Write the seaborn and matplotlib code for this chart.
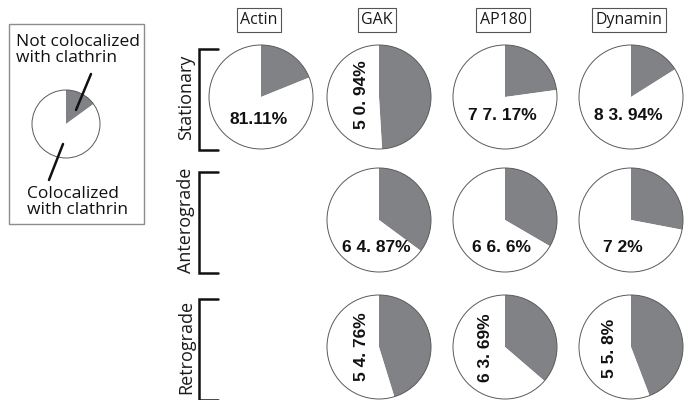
import numpy as np
import matplotlib
matplotlib.use("Agg")
import matplotlib.pyplot as plt
from matplotlib.patches import Circle, Rectangle
import seaborn as sns

# ---------------- data ----------------
proteins = ["Actin", "GAK", "AP180", "Dynamin"]
movements = ["Stationary", "Anterograde", "Retrograde"]
# percent colocalized with clathrin (white wedge); None = no pie
stationary = [81.11, 50.94, 77.17, 83.94]
anterograde = [None, 64.87, 66.6, 72.0]
retrograde = [None, 54.76, 63.69, 55.8]
# labels as printed in the figure
stationary_labels = ["81.11%", "5 0. 94%", "7 7. 17%", "8 3. 94%"]
anterograde_labels = [None, "6 4. 87%", "6 6. 6%", "7 2%"]
retrograde_labels = [None, "5 4. 76%", "6 3. 69%", "5 5. 8%"]
legend_colocalized = 85.0
legend_top = "Not colocalized\nwith clathrin"
legend_bottom = "Colocalized\nwith clathrin"

values = [stationary, anterograde, retrograde]
labels = [stationary_labels, anterograde_labels, retrograde_labels]

# ---------------- style / layout ----------------
sns.set_theme(style="white")
plt.rcParams['font.family'] = ['Open Sans', 'DejaVu Sans']

W, H = 686, 400
GRAY = "#808285"
EDGE = "#5a5a5a"

col_x = [261, 379, 505, 631]
row_y = [97, 220, 347]
R = 52
# label offsets (dx, dy in pixels, y downward) and rotation per cell
lab_off = [
    [(-2, 23, 0), (-17, -2, 90), (-3, 18, 0), (-3, 18, 0)],
    [None, (-3, 27, 0), (-3, 28, 0), (-8, 27, 0)],
    [None, (-17, 0, 90), (-19, 1, 90), (-21, 1, 90)],
]

fig = plt.figure(figsize=(W / 100, H / 100), dpi=100)
ax = fig.add_axes([0, 0, 1, 1])


def Y(y):
    return H - y


def draw_pie(cx, cy, r, coloc):
    ax.pie([100 - coloc, coloc], center=(cx, Y(cy)), radius=r,
           startangle=90, counterclock=False, colors=[GRAY, "white"],
           wedgeprops=dict(linewidth=0))
    ax.add_patch(Circle((cx, Y(cy)), r, fill=False, edgecolor=EDGE, lw=0.7, zorder=5))


for i, mv in enumerate(movements):
    for j, pr in enumerate(proteins):
        v = values[i][j]
        if v is None:
            continue
        cx, cy = col_x[j], row_y[i]
        draw_pie(cx, cy, R, v)
        dx, dy, rot = lab_off[i][j]
        ax.text(cx + dx, Y(cy + dy), labels[i][j], ha="center", va="center",
                rotation=rot, fontsize=12.5, fontweight="bold",
                family=["Liberation Sans", "DejaVu Sans"], color="#111111", zorder=6)

# column headers
for j, pr in enumerate(proteins):
    ax.text(col_x[j] - 2, Y(20), pr, ha="center", va="center", fontsize=11.5,
            color="#1a1a1a",
            bbox=dict(boxstyle="square,pad=0.22", fc="white", ec="#555555", lw=0.8))

# row labels and brackets
for i, mv in enumerate(movements):
    cy = row_y[i]
    ax.text(186, Y(cy), mv, ha="center", va="center", rotation=90,
            fontsize=13, color="#1a1a1a")
    top, bot = cy - 48, cy + 53
    ax.plot([218, 199, 199, 218], [Y(top), Y(top), Y(bot), Y(bot)],
            color="#111111", lw=1.8, solid_joinstyle="miter")

# legend box
ax.add_patch(Rectangle((9, Y(224)), 135, 200, fill=False, edgecolor="#8c8c8c", lw=1))
draw_pie(66, 124, 34, legend_colocalized)
ax.text(16, Y(50), legend_top, ha="left", va="center", fontsize=12.5,
        linespacing=1.05, color="#111111")
ax.text(27, Y(202), legend_bottom, ha="left", va="center", fontsize=12.5,
        linespacing=1.05, color="#111111")
ax.plot([91, 76], [Y(74), Y(110)], color="#111111", lw=1.8, zorder=7)
ax.plot([63, 49], [Y(144), Y(180)], color="#111111", lw=1.8, zorder=7)

ax.set_xlim(0, W)
ax.set_ylim(0, H)
ax.set_aspect("equal")
ax.axis("off")

fig.savefig("out.png", dpi=100)
